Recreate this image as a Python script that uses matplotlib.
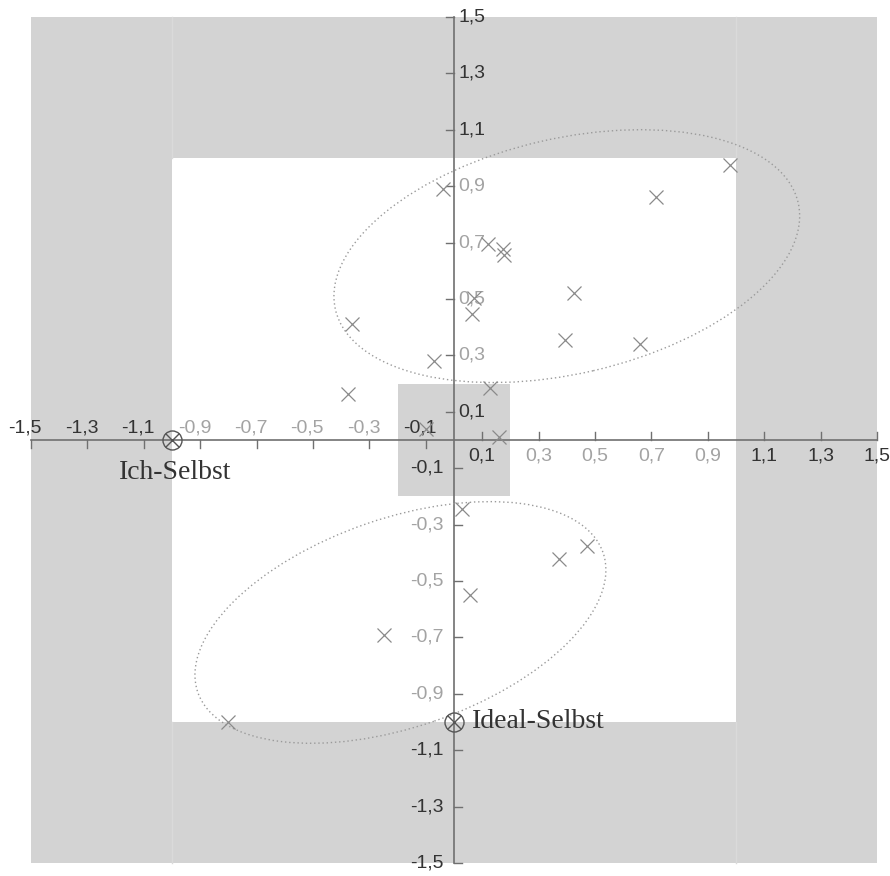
import matplotlib.pyplot as plt
from matplotlib.patches import Rectangle, Ellipse

# Werte der Personen (x = Ich-Selbst-Achse, y = Ideal-Selbst-Achse)
x_werte = [0.98, 0.716, -0.040, 0.119, 0.175, 0.177, 0.426, 0.070, 0.063, -0.363, 0.395, 0.660,
           -0.071, 0.128, -0.375, 0.161, -0.098, 0.030, 0.470, 0.373, 0.057, -0.247, -0.803]
y_werte = [0.975, 0.863, 0.889, 0.694, 0.676, 0.656, 0.520, 0.505, 0.447, 0.411, 0.355, 0.340,
           0.281, 0.183, 0.163, 0.012, 0.040, -0.245, -0.376, -0.423, -0.550, -0.691, -1.001]

# Referenzpunkte
ref_namen = ["Ich-Selbst", "Ideal-Selbst"]
ref_x = [-1.0, 0.0]
ref_y = [0.0, -1.0]

ticks = [-1.5, -1.3, -1.1, -0.9, -0.7, -0.5, -0.3, -0.1, 0.1, 0.3, 0.5, 0.7, 0.9, 1.1, 1.3, 1.5]

# Gruppen-Ellipsen: (Mitte x, Mitte y, Breite, Hoehe, Winkel)
ellipsen = [(0.40, 0.652, 1.684, 0.834, 13.0),
            (-0.19, -0.647, 1.52, 0.74, 19.0)]

grau = '#d3d3d3'
achse = '#707070'
tick_font = ['Liberation Sans Narrow', 'Liberation Sans', 'DejaVu Sans']

fig = plt.figure(figsize=(8.9, 8.76), dpi=100)
ax = fig.add_axes([0, 0, 1, 1])
ax.set_xlim(-454 / 282, 436 / 282)
ax.set_ylim(-436 / 282, 440 / 282)
ax.axis('off')

# Hintergrund
ax.add_patch(Rectangle((-1.5, -1.5), 3, 3, fc=grau, ec='none', zorder=0))
ax.add_patch(Rectangle((-1, -1), 2, 2, fc='white', ec='none', zorder=0))
ax.add_patch(Rectangle((-0.2, -0.2), 0.4, 0.4, fc=grau, ec='none', zorder=0))
for xv in [-1, 1]:
    ax.plot([xv, xv], [1.0, 1.5], color='#dadada', lw=1, zorder=0.5)
    ax.plot([xv, xv], [-1.5, -1.0], color='#dadada', lw=1, zorder=0.5)

# Achsen
ax.plot([-1.5, 1.5], [0, 0], color=achse, lw=1.2, zorder=2)
ax.plot([0, 0], [-1.5, 1.5], color=achse, lw=1.2, zorder=2)

tl = 0.028
fs = 14
for t in ticks:
    lab = ('%.1f' % t).replace('.', ',')
    farbe = '#333333' if (abs(t) > 1 or abs(t) < 0.2) else '#a3a3a3'
    if t > 0:
        ax.plot([t, t], [0, tl], color=achse, lw=1, zorder=2)
        ax.text(t, -0.026, lab, ha='center', va='top', fontsize=fs, color=farbe, family=tick_font)
        ax.plot([-tl, 0], [t, t], color=achse, lw=1, zorder=2)
        ax.text(0.016, t, lab, ha='left', va='center', fontsize=fs, color=farbe, family=tick_font)
    else:
        ax.plot([t, t], [-tl, 0], color=achse, lw=1, zorder=2)
        ax.text(t - 0.02, 0.014, lab, ha='center', va='bottom', fontsize=fs, color=farbe, family=tick_font)
        ax.plot([0, tl], [t, t], color=achse, lw=1, zorder=2)
        ax.text(-0.036, t, lab, ha='right', va='center', fontsize=fs, color=farbe, family=tick_font)

# Ellipsen
for cx, cy, w, h, ang in ellipsen:
    ax.add_patch(Ellipse((cx, cy), w, h, angle=ang, fill=False, ec='#9a9a9a',
                         lw=1, ls=(0, (1, 2)), zorder=3))

# Datenpunkte
ax.plot(x_werte, y_werte, ls='none', marker='x', ms=9.5, mew=0.9, color='#8a8a8a', zorder=4)

# Referenzpunkte
ax.plot(ref_x, ref_y, ls='none', marker='o', ms=13.7, mfc='none', mec='#555555', mew=1, zorder=5)
ax.plot(ref_x, ref_y, ls='none', marker='x', ms=9.7, mew=1, color='#555555', zorder=5)
ax.text(ref_x[0] + 0.01, ref_y[0] - 0.115, ref_namen[0], ha='center', va='center',
        fontsize=20, color='#333333', family=['Liberation Serif', 'DejaVu Serif'])
ax.text(ref_x[1] + 0.065, ref_y[1], ref_namen[1], ha='left', va='center',
        fontsize=20, color='#333333', family=['Liberation Serif', 'DejaVu Serif'])

fig.savefig('out.png', dpi=100)
